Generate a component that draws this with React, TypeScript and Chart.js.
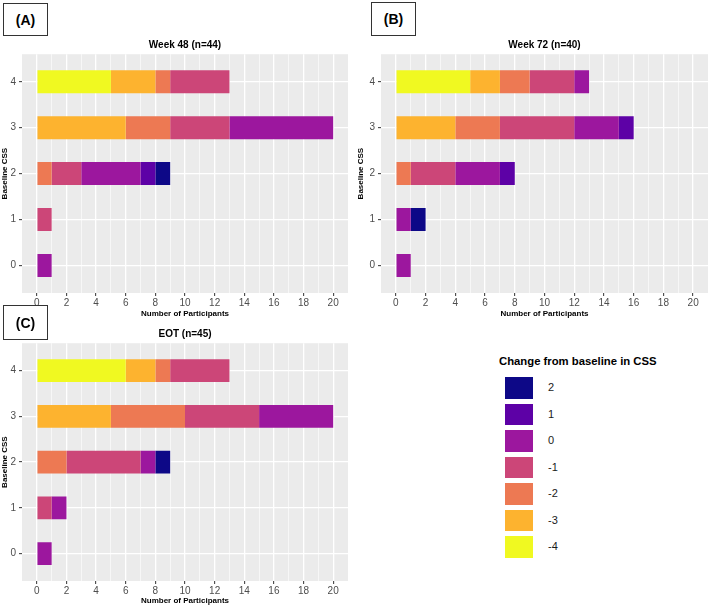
import React, { useEffect, useRef } from 'react';
import { Chart, registerables } from 'chart.js';

Chart.register(...registerables);

const FONT = '"Liberation Sans", Arial, Helvetica, sans-serif';
Chart.defaults.font.family = FONT;

// ---------- data ----------
const baselineCss = [0, 1, 2, 3, 4];
const changeLevels = ['-4', '-3', '-2', '-1', '0', '1', '2'];
const changeColors = ['#F0F921', '#FDB32F', '#ED7953', '#CC4678', '#9C179E', '#5D01A6', '#0D0887'];
const xTickLabels = [0, 2, 4, 6, 8, 10, 12, 14, 16, 18, 20];

// rows: change from baseline (-4 .. 2); columns: baseline CSS (0 .. 4)
const week48Counts = [
  [0, 0, 0, 0, 5],
  [0, 0, 0, 6, 3],
  [0, 0, 1, 3, 1],
  [0, 1, 2, 4, 4],
  [1, 0, 4, 7, 0],
  [0, 0, 1, 0, 0],
  [0, 0, 1, 0, 0],
];
const week72Counts = [
  [0, 0, 0, 0, 5],
  [0, 0, 0, 4, 2],
  [0, 0, 1, 3, 2],
  [0, 0, 3, 5, 3],
  [1, 1, 3, 3, 1],
  [0, 0, 1, 1, 0],
  [0, 1, 0, 0, 0],
];
const eotCounts = [
  [0, 0, 0, 0, 6],
  [0, 0, 0, 5, 2],
  [0, 0, 2, 5, 1],
  [0, 1, 5, 5, 4],
  [1, 1, 1, 5, 0],
  [0, 0, 0, 0, 0],
  [0, 0, 1, 0, 0],
];
const panelTitles = ['Week 48 (n=44)', 'Week 72 (n=40)', 'EOT (n=45)'];
const panelTags = ['(A)', '(B)', '(C)'];
const legendTitle = 'Change from baseline in CSS';
const xAxisTitle = 'Number of Participants';
const yAxisTitle = 'Baseline CSS';

// ---------- chart ----------
const panelBg = {
  id: 'panelBg',
  beforeDraw(chart: any) {
    const { ctx, chartArea: a } = chart;
    ctx.save();
    ctx.fillStyle = '#EBEBEB';
    ctx.fillRect(a.left, a.top, a.right - a.left, a.bottom - a.top);
    ctx.restore();
  },
};

type PanelProps = {
  counts: number[][];
  title: string;
  left: number;
  top: number;
  width: number;
  height: number;
  yAxisWidth: number;
  rightPad: number;
  xAxisHeight: number;
  xTitlePad: number;
  yTitlePad: number;
};

function Panel(p: PanelProps) {
  const ref = useRef<HTMLCanvasElement | null>(null);
  useEffect(() => {
    if (!ref.current) return;
    const datasets = changeLevels.map((lvl, i) => ({
      label: lvl,
      data: p.counts[i]
        .map((c, j) => ({ x: c, y: baselineCss[j] }))
        .filter((d) => d.x > 0),
      backgroundColor: changeColors[i],
      borderWidth: 0,
      categoryPercentage: 1,
      barPercentage: 0.5,
    }));
    const isMajor = (v: number) => xTickLabels.includes(v);
    const inRange = (v: number) => v >= 0 && v <= 20;
    const chart = new Chart(ref.current, {
      type: 'bar',
      data: { datasets },
      plugins: [panelBg],
      options: {
        animation: false,
        responsive: false,
        indexAxis: 'y',
        layout: { padding: { left: 0, right: p.rightPad, top: 0, bottom: 0 } },
        plugins: {
          legend: { display: false },
          tooltip: { enabled: false },
          title: {
            display: true,
            text: p.title,
            fullSize: false,
            color: '#000',
            font: { size: 10, weight: 'bold', family: FONT },
            padding: { top: 3, bottom: 3.2 },
          },
        },
        scales: {
          x: {
            type: 'linear',
            stacked: true,
            min: -1,
            max: 21,
            offset: false,
            border: { display: false },
            ticks: {
              stepSize: 1,
              autoSkip: false,
              maxRotation: 0,
              padding: 1,
              color: '#4D4D4D',
              font: { size: 10, family: FONT },
              callback: (v: any) => (isMajor(Number(v)) ? String(v) : ''),
            },
            grid: {
              offset: false,
              color: (ctx: any) => (ctx.tick && inRange(ctx.tick.value) ? '#FFFFFF' : 'rgba(0,0,0,0)'),
              lineWidth: (ctx: any) => (ctx.tick && isMajor(ctx.tick.value) ? 1.3 : 0.6),
              tickColor: (ctx: any) => (ctx.tick && isMajor(ctx.tick.value) ? '#333333' : 'rgba(0,0,0,0)'),
              tickWidth: 1,
              tickLength: 3,
              drawTicks: true,
            },
            title: {
              display: true,
              text: xAxisTitle,
              color: '#000',
              font: { size: 8, weight: 'bold', family: FONT },
              padding: { top: 0, bottom: p.xTitlePad },
            },
            afterFit: (s: any) => {
              s.height = p.xAxisHeight;
            },
          } as any,
          y: {
            type: 'linear',
            stacked: true,
            min: -0.6,
            max: 4.6,
            offset: false,
            border: { display: false },
            afterBuildTicks: (s: any) => {
              s.ticks = baselineCss.map((v) => ({ value: v }));
            },
            ticks: {
              padding: 3,
              color: '#4D4D4D',
              font: { size: 10, family: FONT },
              callback: (v: any) => String(v),
            },
            grid: {
              offset: false,
              color: '#FFFFFF',
              lineWidth: 1.3,
              tickColor: '#333333',
              tickWidth: 1,
              tickLength: 3,
            },
            title: {
              display: true,
              text: yAxisTitle,
              color: '#000',
              font: { size: 8, weight: 'bold', family: FONT },
              padding: { top: p.yTitlePad, bottom: 0 },
            },
            afterFit: (s: any) => {
              s.width = p.yAxisWidth;
            },
          } as any,
        },
      },
    } as any);
    return () => chart.destroy();
  }, []);
  return (
    <canvas
      ref={ref}
      width={p.width}
      height={p.height}
      style={{ position: 'absolute', left: p.left, top: p.top, width: p.width, height: p.height, display: 'block' }}
    />
  );
}

function Tag({ text, left, top, width, height }: { text: string; left: number; top: number; width: number; height: number }) {
  return (
    <div
      style={{
        position: 'absolute',
        left,
        top,
        width,
        height,
        boxSizing: 'border-box',
        border: '1.2px solid #333',
        display: 'flex',
        alignItems: 'center',
        justifyContent: 'center',
        fontFamily: FONT,
        fontWeight: 'bold',
        fontSize: 14,
        color: '#000',
      }}
    >
      {text}
    </div>
  );
}

export default function App() {
  const legendOrder = [6, 5, 4, 3, 2, 1, 0];
  return (
    <div style={{ position: 'absolute', left: 0, top: 0, width: 709, height: 606, background: '#fff', overflow: 'hidden' }}>
      <Panel counts={week48Counts} title={panelTitles[0]} left={0} top={36} width={355} height={283}
        yAxisWidth={22} rightPad={7} xAxisHeight={26} xTitlePad={0.7} yTitlePad={0.2} />
      <Panel counts={week72Counts} title={panelTitles[1]} left={355} top={36} width={354} height={283}
        yAxisWidth={26} rightPad={1} xAxisHeight={26} xTitlePad={0.7} yTitlePad={1.2} />
      <Panel counts={eotCounts} title={panelTitles[2]} left={0} top={325} width={355} height={281}
        yAxisWidth={22} rightPad={7} xAxisHeight={25} xTitlePad={0.9} yTitlePad={0.2} />
      <Tag text={panelTags[0]} left={3} top={3} width={45} height={33} />
      <Tag text={panelTags[1]} left={371} top={2} width={45} height={34} />
      <Tag text={panelTags[2]} left={3} top={305} width={45} height={35} />
      <div
        style={{
          position: 'absolute',
          left: 499,
          top: 354,
          height: 14,
          lineHeight: '14px',
          whiteSpace: 'nowrap',
          fontFamily: FONT,
          fontWeight: 'bold',
          fontSize: 11.3,
          color: '#000',
        }}
      >
        {legendTitle}
      </div>
      {legendOrder.map((idx, k) => (
        <React.Fragment key={idx}>
          <div
            style={{
              position: 'absolute',
              left: 505,
              top: 377.3 + k * 26.45,
              width: 27.5,
              height: 21.5,
              background: changeColors[idx],
            }}
          />
          <div
            style={{
              position: 'absolute',
              left: 548,
              top: 377.3 + k * 26.45,
              height: 21.5,
              lineHeight: '21.5px',
              fontFamily: FONT,
              fontSize: 11,
              color: '#1A1A1A',
              whiteSpace: 'nowrap',
            }}
          >
            {changeLevels[idx]}
          </div>
        </React.Fragment>
      ))}
    </div>
  );
}
